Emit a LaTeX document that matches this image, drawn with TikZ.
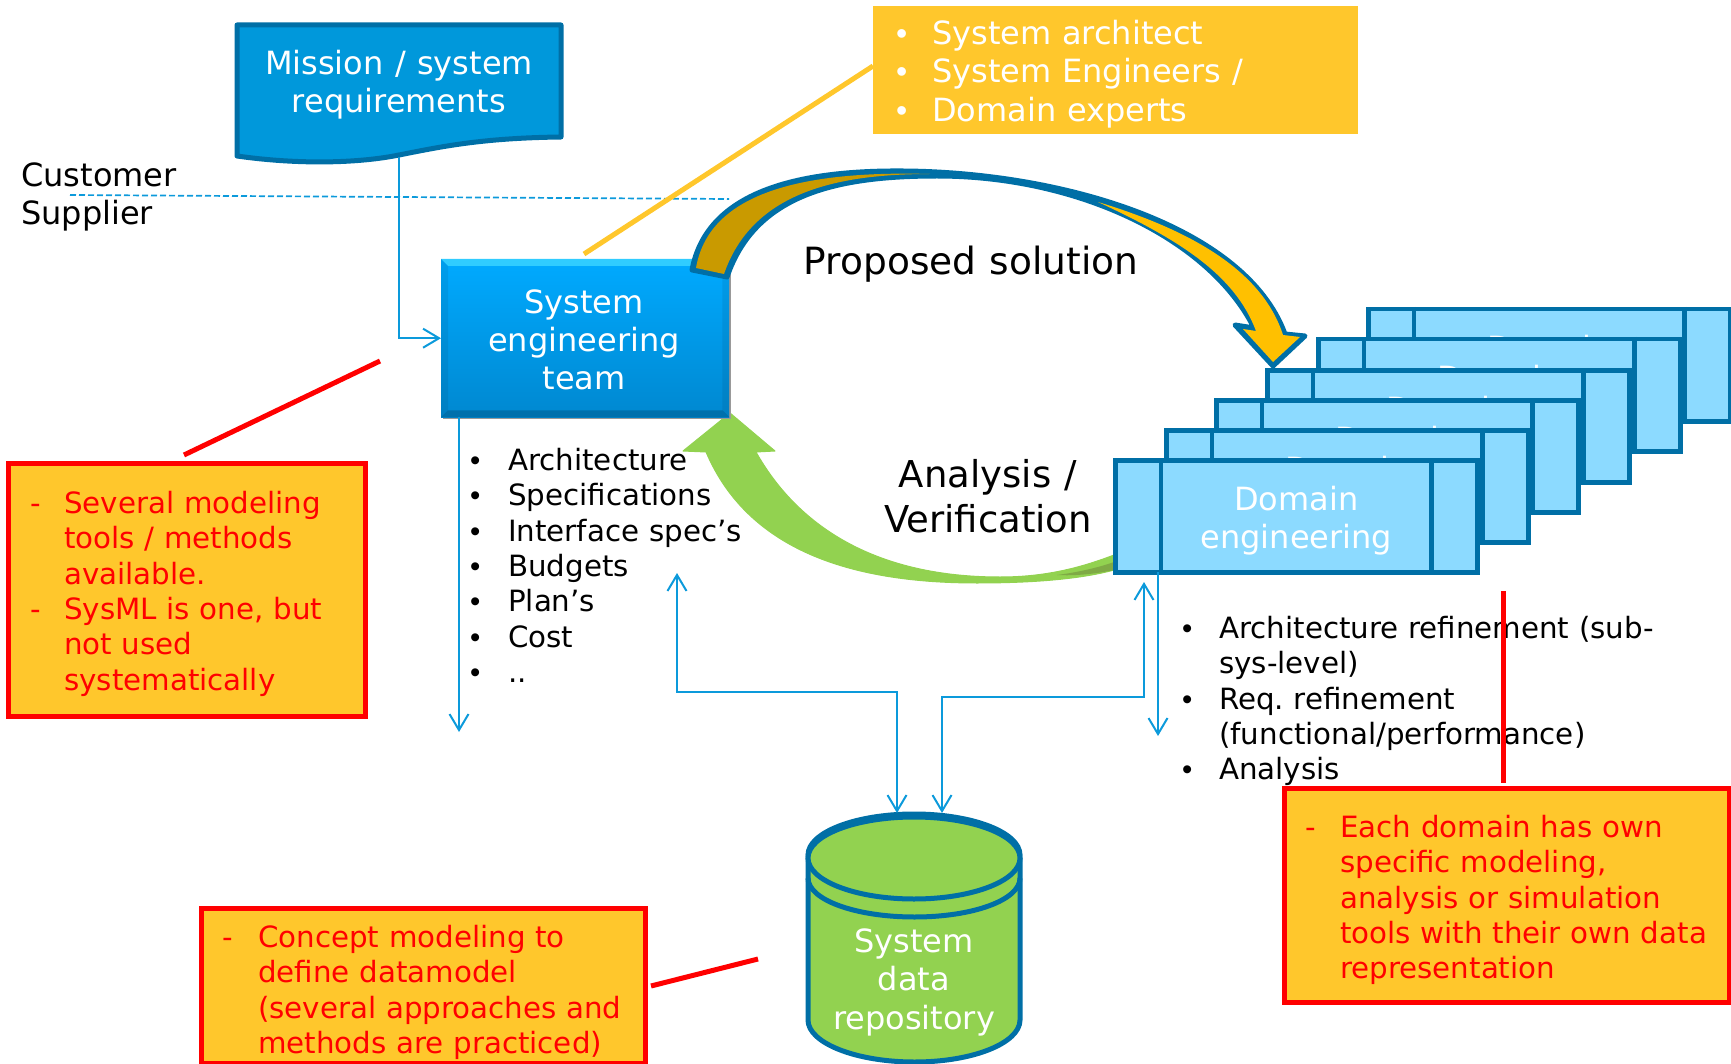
\documentclass[tikz,border=0pt]{standalone}
\usepackage{fontspec}
\setmainfont{DejaVu Sans}[WordSpace=1.12]
\newfontfamily\bulletf{Liberation Sans}
\usetikzlibrary{arrows.meta,calc}
\definecolor{strokeblue}{HTML}{006FA6}
\definecolor{missionfill}{HTML}{0098DB}
\definecolor{domainfill}{HTML}{8CDAFF}
\definecolor{greenfill}{HTML}{92D250}
\definecolor{darkgreen}{HTML}{7FAA45}
\definecolor{calloutfill}{HTML}{FFC72C}
\definecolor{linkblue}{HTML}{0C9ADB}
\definecolor{goldback}{HTML}{C99A00}
\definecolor{goldfront}{HTML}{FFC000}
\definecolor{teamtop}{HTML}{00AAFF}
\definecolor{teambottom}{HTML}{0088D0}
\definecolor{bevellight}{HTML}{30CCFF}
\definecolor{beveldark}{HTML}{0070AC}
\frenchspacing
\newcommand{\li}[3]{\par\hangindent=#1pt\hangafter=1\noindent\makebox[#1pt][l]{#2}#3\par}
\newcommand{\blt}{{\bulletf •}}
\newcommand{\fs}[2]{\fontsize{#1}{#2}\selectfont}
\newcommand{\topr}{\rule{0pt}{24pt}}
\tikzset{
  x=1pt,y=-1pt,
  link/.style={draw=linkblue,line width=2pt},
  barb/.style={-{Straight Barb[length=16pt,width=19pt,line width=2pt]}},
  barbs/.style={{Straight Barb[length=16pt,width=19pt,line width=2pt]}-{Straight Barb[length=16pt,width=19pt,line width=2pt]}},
  whitetext/.style={text=white,align=center,inner sep=0pt},
  blacktext/.style={text=black,inner sep=0pt},
  listtext/.style={anchor=north west,inner sep=0pt,text width=640pt,align=left,font=\fs{29.3}{35.3}},
  callout/.style={draw=red,line width=4.5pt,fill=calloutfill,inner sep=0pt,anchor=north west},
  redline/.style={draw=red,line width=5pt},
  domainbox/.style={draw=strokeblue,line width=4.5pt,fill=domainfill,inner sep=0pt,anchor=north west,minimum width=362pt,minimum height=112pt},
}
\newcommand{\domain}[3]{%
  \node[domainbox] (#1) at (#2,#3) {};
  \draw[strokeblue,line width=4.5pt] ($(#1.north west)+(48,0)$) -- ($(#1.south west)+(48,0)$);
  \draw[strokeblue,line width=4.5pt] ($(#1.north east)+(-48,0)$) -- ($(#1.south east)+(-48,0)$);
  \node[whitetext,font=\fs{32}{38.5}] (#1t) at ($(#1.center)+(0,4.5)$) {Domain\\engineering};
}
\begin{document}
\begin{tikzpicture}
\useasboundingbox (0,0) rectangle (1731,1064);
\clip (0,0) rectangle (1731,1064);

% requirement document
\draw[strokeblue,line width=5pt,fill=missionfill,line join=round]
  (237,25) -- (561,25) -- (561,137) .. controls (480,138) and (440,147) .. (399,155)
  .. controls (360,163) and (300,165) .. (237,156) -- cycle;
\node[whitetext,font=\fs{32}{38}] (req) at (399,85) {Mission / system\\requirements};

% customer / supplier
\node[blacktext,anchor=north west,align=left,font=\fs{32}{38}] (cs) at (21,162) {\topr Customer\\Supplier};
\coordinate (dashL) at (70,195);
\coordinate (dashR) at (729,199);
\draw[linkblue,line width=1.7pt,dash pattern=on 6pt off 3pt] (dashL) -- (dashR);

% role box
\node[fill=calloutfill,inner sep=0pt,anchor=north west,minimum width=485pt,minimum height=128pt] (roles) at (873,6) {};
\node[listtext,font=\fs{32}{38.4},text=white] (rolest) at (896,6)
  {\li{36}{\blt}{\topr System architect}\li{36}{\blt}{System Engineers /}\li{36}{\blt}{Domain experts}};

% green return arrow
\draw[greenfill,fill=greenfill,line width=1pt,line join=round]
  (730,413) -- (775,451) -- (756,452) .. controls (800,530) and (880,577) .. (1000,577)
  .. controls (1045,577) and (1080,568) .. (1114,555) -- (1114,570)
  .. controls (1085,578) and (1040,583) .. (977,583)
  .. controls (860,583) and (750,555) .. (706,452) -- (683,451) -- cycle;
\fill[darkgreen] (1057,575) .. controls (1080,572) and (1100,567) .. (1114,562) -- (1114,570) .. controls (1095,574) and (1075,576) .. (1057,575) -- cycle;

% team box
\node[fill=black!40,inner sep=0pt,anchor=north west,minimum width=288pt,minimum height=158pt] (teamshadow) at (443,261) {};
\node[top color=teamtop,bottom color=teambottom,inner sep=0pt,anchor=north west,minimum width=288pt,minimum height=158pt] (team) at (441,259) {};
\fill[bevellight] (team.north west) -- (team.north east) -- ++(-7,7) -- ($(team.north west)+(7,7)$) -- cycle;
\fill[beveldark] (team.south west) -- (team.south east) -- ++(-7,-7) -- ($(team.south west)+(7,-7)$) -- cycle;
\fill[black,opacity=0.07] (team.north east) -- (team.south east) -- ++(-7,-7) -- ($(team.north east)+(-7,7)$) -- cycle;
\fill[black,opacity=0.07] (team.north west) -- (team.south west) -- ++(7,-7) -- ($(team.north west)+(7,7)$) -- cycle;
\node[whitetext,font=\fs{32}{38}] (teamt) at (584,340) {System\\engineering\\team};

% gold arrow
\draw[strokeblue,fill=strokeblue,line width=5pt,line join=round]
  (692,270) .. controls (706,195) and (790,170) .. (903,171)
  .. controls (1060,172) and (1245,225) .. (1285,334)
  -- (1305,336) -- (1273,366) -- (1235,325) -- (1254,328)
  .. controls (1210,240) and (1080,176) .. (937,176)
  .. controls (835,176) and (755,195) .. (727,277) -- cycle;
\fill[goldback] (696,268) .. controls (708,198) and (790,170) .. (930,174)
  .. controls (835,174) and (752,193) .. (724,274) -- cycle;
\fill[goldfront] (1098,202) .. controls (1190,230) and (1262,270) .. (1283,335)
  -- (1300,337) -- (1273,362) -- (1243,329) -- (1256,331)
  .. controls (1235,275) and (1180,240) .. (1098,202) -- cycle;

% arrow captions
\node[blacktext,font=\fs{37.5}{45}] (proposed) at (971,264) {Proposed solution};
\node[blacktext,align=center,font=\fs{37}{45}] (analysis) at (988,496) {Analysis /\\Verification};

% domain stack
\domain{d5}{1366}{307}
\domain{d4}{1316}{337}
\domain{d3}{1265}{368}
\domain{d2}{1214}{398}
\domain{d1}{1164}{428}
\domain{d0}{1113}{458}

% lists
\node[listtext] (sysl) at (470,435)
  {\li{38}{\blt}{\topr Architecture}\li{38}{\blt}{Specifications}\li{38}{\blt}{Interface spec’s}\li{38}{\blt}{Budgets}\li{38}{\blt}{Plan’s}\li{38}{\blt}{Cost}\li{38}{\blt}{..}};
\node[listtext] (doml) at (1182,603)
  {\li{37}{\blt}{\topr Architecture refinement (sub-}\li{37}{}{sys-level)}\li{37}{\blt}{Req. refinement}\li{37}{}{(functional/performance)}\li{37}{\blt}{Analysis}};

% repository
\draw[strokeblue,fill=greenfill,line width=5pt]
  (808,860) -- (808,1020) .. controls (808,1043) and (856,1062) .. (914.5,1062)
  .. controls (973,1062) and (1020,1043) .. (1020,1020) -- (1020,860) -- cycle;
\draw[strokeblue,line width=5pt]
  (808,878) .. controls (808,900) and (856,917) .. (914.5,917)
  .. controls (973,917) and (1020,900) .. (1020,878);
\draw[strokeblue,line width=5pt] (914,855) ellipse [x radius=106,y radius=41];
\draw[strokeblue,fill=greenfill,line width=5pt] (914,858) ellipse [x radius=106,y radius=41];
\node[whitetext,font=\fs{32}{38.5}] (repo) at (914,982) {System\\data\\repository};

% connectors
\coordinate (reqdrop) at (399,157);
\draw[link,barb] (reqdrop) -- (reqdrop |- team.west) -- (team.west);
\coordinate (sysdown) at (459,417);
\coordinate (sysend) at (459,732);
\draw[link,barb] (sysdown) -- (sysend);
\coordinate (repoA) at (897,813);
\coordinate (repoB) at (942,813);
\coordinate (listUp) at (677,573);
\coordinate (domUp) at (1144,582);
\draw[link,barbs] (listUp) -- (677,692) -- (897,692) -- (repoA);
\draw[link,barbs] (domUp) -- (1144,697) -- (942,697) -- (repoB);
\coordinate (domdown) at (1158,572);
\coordinate (domend) at (1158,736);
\draw[link,barb] (domdown) -- (domend);

% callouts
\node[callout,minimum width=357pt,minimum height=253pt] (c1) at (6,461) {};
\node[listtext,text=red] (c1t) at (30,478)
  {\li{34}{-}{\topr Several modeling}\li{34}{}{tools / methods}\li{34}{}{available.}\li{34}{-}{SysML is one, but}\li{34}{}{not used}\li{34}{}{systematically}};
\node[callout,minimum width=444pt,minimum height=155pt] (c2) at (199,906) {};
\node[listtext,text=red] (c2t) at (222,912)
  {\li{36}{-}{\topr Concept modeling to}\li{36}{}{define datamodel}\li{36}{}{(several approaches and}\li{36}{}{methods are practiced)}};
\node[callout,minimum width=445pt,minimum height=214pt] (c3) at (1282,786) {};
\node[listtext,text=red] (c3t) at (1305,802)
  {\li{35}{-}{\topr Each domain has own}\li{35}{}{specific modeling,}\li{35}{}{analysis or simulation}\li{35}{}{tools with their own data}\li{35}{}{representation}};

% pointer lines
\coordinate (yellowA) at (584,254);
\coordinate (yellowB) at (873,66);
\draw[calloutfill,line width=5pt] (yellowA) -- (yellowB);
\coordinate (r1a) at (184,455);
\coordinate (r1b) at (380,361);
\draw[redline] (r1a) -- (r1b);
\coordinate (r2a) at (651,986);
\coordinate (r2b) at (758,959);
\draw[redline] (r2a) -- (r2b);
\coordinate (r3a) at (1503,591);
\coordinate (r3b) at (1503,783);
\draw[redline] (r3a) -- (r3b);
\end{tikzpicture}
\end{document}
